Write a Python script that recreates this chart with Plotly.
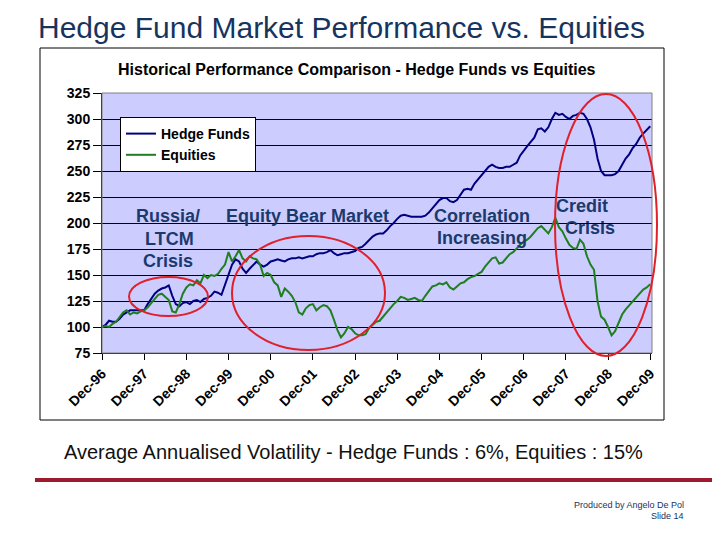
import plotly.graph_objects as go

# ---------------- data (monthly, Dec-96 .. Dec-09, indexed to 100) ----------------
tick_labels = ["Dec-96", "Dec-97", "Dec-98", "Dec-99", "Dec-00", "Dec-01", "Dec-02",
               "Dec-03", "Dec-04", "Dec-05", "Dec-06", "Dec-07", "Dec-08", "Dec-09"]

hedge_funds = [
    100, 102, 106, 105, 105, 108, 112, 114, 116, 116, 116, 116,   # Dec96-Nov97
    116, 122, 127, 132, 135, 137, 138, 140, 130, 122, 120, 123,   # Dec97-Nov98
    124, 122, 125, 126, 124, 127, 128, 130, 134, 133, 131, 140,   # Dec98-Nov99
    150, 160, 165, 163, 156, 152, 156, 160, 163, 160, 158, 160,   # Dec99-Nov00
    163, 164, 165, 164, 163, 165, 166, 166, 167, 166, 167, 168,   # Dec00-Nov01
    168, 170, 171, 171, 172, 174, 171, 169, 170, 171, 171, 172,   # Dec01-Nov02
    173, 176, 177, 180, 184, 187, 189, 190, 190, 193, 197, 200,   # Dec02-Nov03
    204, 207, 208, 207, 206, 206, 206, 206, 207, 210, 214, 218,   # Dec03-Nov04
    222, 224, 224, 221, 220, 222, 227, 232, 233, 232, 238, 242,   # Dec04-Nov05
    246, 250, 254, 256, 254, 253, 253, 254, 254, 256, 258, 265,   # Dec05-Nov06
    270, 274, 278, 282, 290, 291, 288, 292, 300, 306, 304, 305,   # Dec06-Nov07
    302, 300, 303, 304, 306, 305, 300, 292, 280, 262, 250, 246,   # Dec07-Nov08
    246, 246, 247, 250, 256, 262, 266, 272, 276, 282, 286, 290,   # Dec08-Nov09
    293,                                                          # Dec09
]

equities = [
    100, 101, 100, 103, 105, 110, 114, 116, 112, 114, 113, 115,   # Dec96-Nov97
    116, 119, 123, 127, 131, 132, 129, 126, 115, 114, 122, 132,   # Dec97-Nov98
    138, 141, 140, 145, 142, 150, 147, 150, 149, 151, 156, 160,   # Dec98-Nov99
    172, 163, 168, 174, 166, 163, 168, 166, 165, 160, 149, 152,   # Dec99-Nov00
    150, 143, 140, 129, 137, 134, 130, 124, 114, 112, 118, 121,   # Dec00-Nov01
    122, 116, 119, 121, 120, 116, 107, 97, 90, 94, 100, 98,       # Dec01-Nov02
    94, 92, 92, 93, 99, 102, 105, 106, 110, 115, 118, 122,        # Dec02-Nov03
    125, 129, 128, 126, 127, 128, 126, 125, 130, 135, 139, 140,   # Dec03-Nov04
    142, 141, 143, 138, 136, 139, 142, 143, 146, 148, 149, 151,   # Dec04-Nov05
    153, 158, 162, 166, 167, 161, 162, 166, 170, 172, 176, 179,   # Dec05-Nov06
    182, 184, 187, 191, 195, 197, 193, 190, 196, 205, 196, 192,   # Dec06-Nov07
    185, 179, 176, 175, 184, 180, 168, 160, 155, 125, 110, 107,   # Dec07-Nov08
    100, 92, 96, 104, 112, 117, 121, 125, 129, 133, 136, 138,     # Dec08-Nov09
    141,                                                          # Dec09
]

months = list(range(len(hedge_funds)))
tick_positions = months[::12]

# ---------------- styling helpers ----------------
FONT = "Liberation Sans, Arial, sans-serif"
NAVY = "#000080"
GREEN = "#1f7f1f"
NOTE = "#1b3a6b"
TITLE = "#17345f"
RED = "#e0202a"

# page offset of the browser (body margin) and plot area in page pixels
OFF = 8
L, R, T, B = 102, 652, 93, 353
W, H = R - L, B - T


def px(x):
    return (x - L) / W


def py(y):
    return (B - y) / H


fig = go.Figure()
fig.add_trace(go.Scatter(x=months, y=hedge_funds, mode="lines", name="Hedge Funds",
                         line=dict(color=NAVY, width=2)))
fig.add_trace(go.Scatter(x=months, y=equities, mode="lines", name="Equities",
                         line=dict(color=GREEN, width=2)))

shapes = [
    # chart frame
    dict(type="rect", xref="paper", yref="paper", x0=px(40), x1=px(664), y0=py(420), y1=py(48),
         line=dict(color="black", width=1), layer="below"),
    # plot area border
    dict(type="rect", xref="paper", yref="paper", x0=0, x1=1, y0=0, y1=1,
         line=dict(color="#808080", width=1)),
    # ellipses
    dict(type="circle", xref="paper", yref="paper", x0=px(129), x1=px(208), y0=py(316), y1=py(277),
         line=dict(color=RED, width=2)),
    dict(type="circle", xref="paper", yref="paper", x0=px(232), x1=px(385), y0=py(350), y1=py(236),
         line=dict(color=RED, width=2)),
    dict(type="circle", xref="paper", yref="paper", x0=px(555), x1=px(657), y0=py(356), y1=py(94),
         line=dict(color=RED, width=2)),
    # dark red rule under the text
    dict(type="line", xref="paper", yref="paper", x0=px(35), x1=px(728), y0=py(480), y1=py(480),
         line=dict(color="#9b1b2f", width=4)),
]

notes = [
    ("Russia/", 168, 216), ("LTCM", 169, 239), ("Crisis", 168, 261),
    ("Equity Bear Market", 307, 216),
    ("Correlation", 482, 216), ("Increasing", 482, 238),
    ("Credit", 582, 206), ("Crisis", 590, 228),
]
annotations = [
    dict(text=t, xref="paper", yref="paper", x=px(x), y=py(y), xanchor="center", yanchor="middle",
         showarrow=False, font=dict(family=FONT, size=18, color=NOTE, weight="bold"))
    for t, x, y in notes
]
annotations += [
    dict(text="Hedge Fund Market Performance vs. Equities", xref="paper", yref="paper",
         x=px(36), y=py(27), xanchor="left", yanchor="middle", showarrow=False,
         font=dict(family=FONT, size=30, color=TITLE)),
    dict(text="Historical Performance Comparison - Hedge Funds vs Equities", xref="paper", yref="paper",
         x=px(357), y=py(69), xanchor="center", yanchor="middle", showarrow=False,
         font=dict(family=FONT, size=16, color="black", weight="bold")),
    dict(text="Average Annualised Volatility - Hedge Funds : 6%, Equities : 15%", xref="paper", yref="paper",
         x=px(62), y=py(452), xanchor="left", yanchor="middle", showarrow=False,
         font=dict(family=FONT, size=20, color="#111111")),
    dict(text="Produced by Angelo De Pol", xref="paper", yref="paper",
         x=px(686), y=py(505), xanchor="right", yanchor="middle", showarrow=False,
         font=dict(family=FONT, size=9, color=TITLE)),
    dict(text="Slide 14", xref="paper", yref="paper",
         x=px(686), y=py(516), xanchor="right", yanchor="middle", showarrow=False,
         font=dict(family=FONT, size=9, color=TITLE)),
]

fig.update_layout(
    width=720 - OFF, height=540 - OFF,
    margin=dict(l=L - OFF, r=720 - R, t=T - OFF, b=540 - B, autoexpand=False),
    paper_bgcolor="white", plot_bgcolor="#ccccff",
    font=dict(family=FONT, color="black"),
    showlegend=True,
    legend=dict(x=px(120), y=py(117), xanchor="left", yanchor="top",
                bgcolor="white", bordercolor="black", borderwidth=1,
                font=dict(family=FONT, size=14, color="black", weight="bold"),
                tracegroupgap=0, itemwidth=30),
    shapes=shapes,
    annotations=annotations,
    xaxis=dict(range=[0, len(months) - 0.5], tickvals=tick_positions, ticktext=tick_labels,
               tickangle=-45, showgrid=False, zeroline=False,
               showline=True, linecolor="black", linewidth=1,
               ticks="outside", ticklen=6, tickcolor="black",
               tickfont=dict(family=FONT, size=14, color="black", weight="bold")),
    yaxis=dict(range=[75, 325], dtick=25, tick0=75, showgrid=True, gridcolor="black", gridwidth=1,
               zeroline=False, showline=True, linecolor="black", linewidth=1,
               ticks="outside", ticklen=8, tickcolor="black",
               tickfont=dict(family=FONT, size=14, color="black", weight="bold")),
)

fig.write_html("out.html")
